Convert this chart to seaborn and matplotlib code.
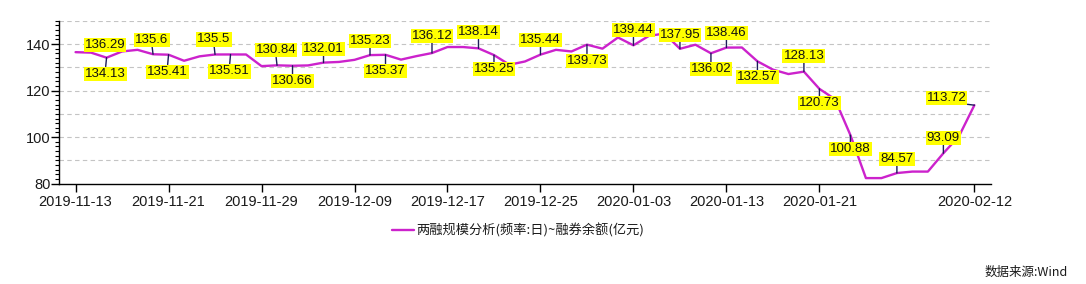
import numpy as np
import pandas as pd
import matplotlib
matplotlib.use("Agg")
import matplotlib.pyplot as plt
import seaborn as sns
from matplotlib.ticker import MultipleLocator

# ---------------- data ----------------
dates = [
    "2019-11-13", "2019-11-14", "2019-11-15", "2019-11-18", "2019-11-19", "2019-11-20", "2019-11-21",
    "2019-11-22", "2019-11-25", "2019-11-26", "2019-11-27", "2019-11-28", "2019-11-29",
    "2019-12-02", "2019-12-03", "2019-12-04", "2019-12-05", "2019-12-06", "2019-12-09",
    "2019-12-10", "2019-12-11", "2019-12-12", "2019-12-13", "2019-12-16", "2019-12-17",
    "2019-12-18", "2019-12-19", "2019-12-20", "2019-12-23", "2019-12-24", "2019-12-25",
    "2019-12-26", "2019-12-27", "2019-12-30", "2019-12-31", "2020-01-02", "2020-01-03",
    "2020-01-06", "2020-01-07", "2020-01-08", "2020-01-09", "2020-01-10", "2020-01-13",
    "2020-01-14", "2020-01-15", "2020-01-16", "2020-01-17", "2020-01-20", "2020-01-21",
    "2020-01-22", "2020-01-23", "2020-02-03", "2020-02-04", "2020-02-05", "2020-02-06",
    "2020-02-07", "2020-02-10", "2020-02-11", "2020-02-12",
]
values = [
    136.5, 136.29, 134.13, 136.8, 137.5, 135.6, 135.41,
    132.8, 134.7, 135.5, 135.51, 135.5, 130.5,
    130.84, 130.66, 130.8, 132.01, 132.3, 133.2,
    135.23, 135.37, 133.3, 134.8, 136.12, 138.7,
    138.7, 138.14, 135.25, 131.1, 132.5, 135.44,
    137.5, 136.8, 139.73, 138.0, 142.8, 139.44,
    143.5, 144.5, 137.95, 139.7, 136.02, 138.46,
    138.5, 132.57, 129.0, 127.1, 128.13, 120.73,
    116.3, 100.88, 82.4, 82.4, 84.57, 85.2,
    85.2, 93.09, 100.3, 113.72,
]
tick_dates = ["2019-11-13", "2019-11-21", "2019-11-29", "2019-12-09", "2019-12-17",
              "2019-12-25", "2020-01-03", "2020-01-13", "2020-01-21", "2020-02-12"]
annotated_dates = ["2019-11-14", "2019-11-15", "2019-11-20", "2019-11-21", "2019-11-26",
                   "2019-11-27", "2019-12-02", "2019-12-03", "2019-12-05", "2019-12-10",
                   "2019-12-11", "2019-12-16", "2019-12-19", "2019-12-20", "2019-12-25",
                   "2019-12-30", "2020-01-03", "2020-01-08", "2020-01-13", "2020-01-10",
                   "2020-01-15", "2020-01-20", "2020-01-21", "2020-01-23", "2020-02-05",
                   "2020-02-10", "2020-02-12"]
series_name = "两融规模分析(频率:日)~融券余额(亿元)"
source_text = "数据来源:Wind"

# ---------------- layout (label placement: side, dx px, gap px) ----------------
ann_layout = [
    ("a", 14, 1), ("b", -1, 9), ("a", -1, 7), ("b", -1, 10), ("a", -1, 8),
    ("b", -1, 10), ("a", -1, 8), ("b", 0, 8), ("a", 0, 7), ("a", 0, 7),
    ("b", 0, 9), ("a", 0, 10), ("a", 0, 9), ("b", 0, 7), ("a", 0, 8),
    ("b", 0, 9), ("a", 0, 8), ("a", 0, 7), ("a", 0, 8), ("b", 0, 9),
    ("b", 0, 9), ("a", 0, 9), ("b", 0, 7), ("b", 0, 7), ("a", 0, 7),
    ("a", 0, 8), ("l", -7, 0),
]

sns.set_theme(style="white")
plt.rcParams["font.family"] = ["Liberation Sans", "Noto Sans CJK SC", "DejaVu Sans"]

fig = plt.figure(figsize=(10.86, 2.84), dpi=100)
ax = fig.add_axes([0.0546, 0.3532, 0.9122 - 0.0546, 0.927 - 0.3532])

df = pd.DataFrame({"idx": np.arange(len(values)), "value": values})
line_color = "#CC22CC"
sns.lineplot(data=df, x="idx", y="value", ax=ax, color=line_color, lw=1.7,
             label=series_name, zorder=3)

ax.set_xlim(-1.05, 59.05)
ax.set_ylim(80, 150)
ax.set_xticks([dates.index(d) for d in tick_dates])
ax.set_xticklabels(tick_dates)
ax.set_yticks([80, 100, 120, 140])
ax.yaxis.set_minor_locator(MultipleLocator(2))
ax.set_xlabel("")
ax.set_ylabel("")

for g in range(90, 151, 10):
    ax.axhline(g, color="#C4C4C4", ls=(0, (4, 3)), lw=0.8, zorder=1)

for s in ["top", "right"]:
    ax.spines[s].set_visible(False)
for s in ["left", "bottom"]:
    ax.spines[s].set_color("black")
    ax.spines[s].set_linewidth(1.0)

ax.tick_params(axis="x", which="major", bottom=True, direction="out", length=6,
               width=1, color="black", labelsize=10.5, labelcolor="#1a1a1a", pad=2)
ax.tick_params(axis="y", which="major", left=True, direction="out", length=5.5,
               width=1, color="black", labelsize=10.5, labelcolor="#1a1a1a", pad=1)
ax.tick_params(axis="y", which="minor", left=True, direction="out", length=3,
               width=0.8, color="black")

# annotations
for d, (side, dx, gap) in zip(annotated_dates, ann_layout):
    i = dates.index(d)
    v = values[i]
    txt = f"{v:g}"
    pad_px = 1
    if side == "a":
        xytext, ha, va, rel = (dx, gap + pad_px), "center", "bottom", (0.5, 0)
    elif side == "b":
        xytext, ha, va, rel = (dx, -(gap + pad_px)), "center", "top", (0.5, 1)
    else:
        xytext, ha, va, rel = (dx - pad_px, pad_px), "right", "bottom", (1, 0)
    arrow = None
    if gap >= 3 or side == "l":
        arrow = dict(arrowstyle="-", color="#1c1c5a", lw=1.0, shrinkA=0, shrinkB=0,
                     relpos=rel)
    ax.annotate(txt, xy=(i, v), xytext=xytext, textcoords="offset pixels",
                ha=ha, va=va, fontsize=9.5, color="#111111",
                family=["Liberation Sans"],
                bbox=dict(boxstyle="square,pad=0.08", fc="#FFFF00", ec="none"),
                arrowprops=arrow, zorder=5, annotation_clip=False)

leg = ax.legend(loc="center", bbox_to_anchor=(0.477, 0.19), bbox_transform=fig.transFigure,
                frameon=False, prop={"family": ["Noto Sans CJK SC"], "size": 9.5},
                handlelength=1.7, handletextpad=0.2)
for t in leg.get_texts():
    t.set_color("#1a1a1a")

fig.text(0.983, 0.042, source_text, ha="right", va="center", fontsize=9,
         family=["Noto Sans CJK SC"], color="#1a1a1a")

fig.savefig("out.png", dpi=100)
